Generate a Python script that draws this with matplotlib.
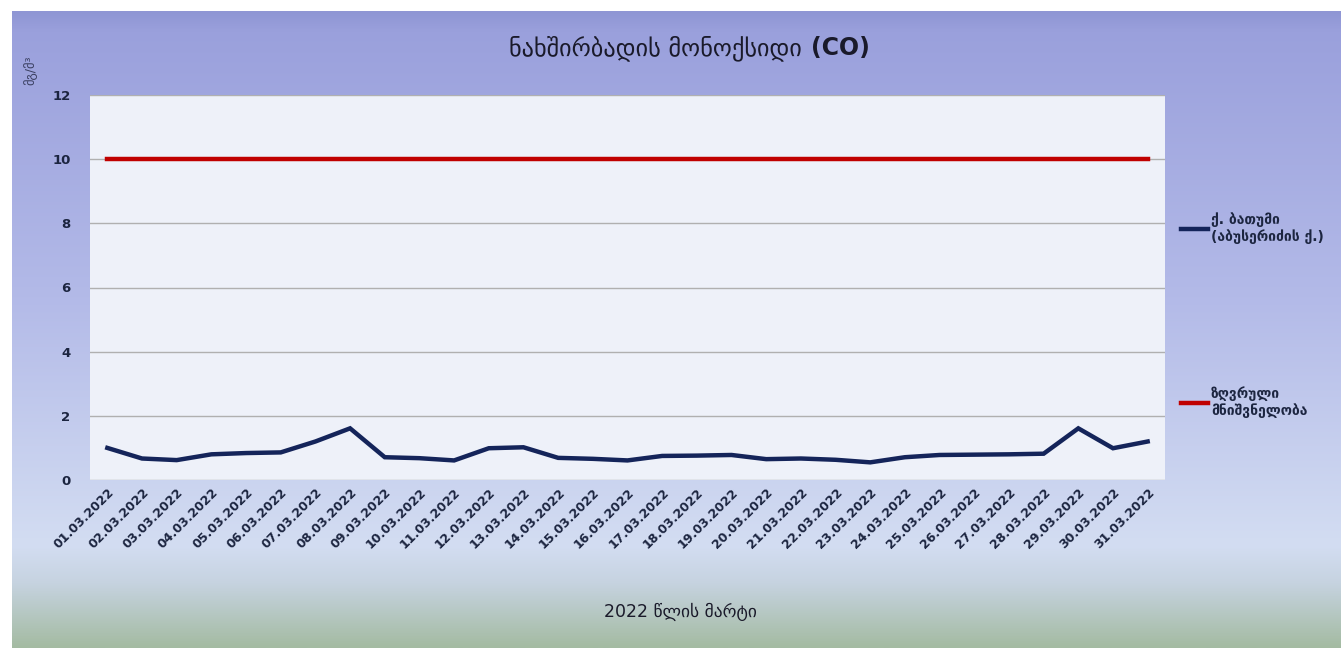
import numpy as np
import matplotlib.pyplot as plt
from matplotlib.colors import LinearSegmentedColormap

# Daily CO concentration, March 2022 (mg/m3)
dates = [f"{d:02d}.03.2022" for d in range(1, 32)]
batumi_co = [1.00, 0.67, 0.62, 0.80, 0.84, 0.86, 1.20, 1.61, 0.71, 0.68,
             0.61, 0.99, 1.02, 0.69, 0.66, 0.61, 0.75, 0.76, 0.78, 0.65,
             0.67, 0.63, 0.55, 0.71, 0.78, 0.79, 0.80, 0.82, 1.61, 0.99, 1.20]
limit_value = [10] * len(dates)

title = "ნახშირბადის მონოქსიდი"
series_label = "ქ. ბათუმი\n(აბუსერიძის ქ.)"
limit_label = "ზღვრული\nმნიშვნელობა"
y_label = "მგ/მ³"
x_label = "2022 წლის მარტი"

W, H = 1341, 648
fig = plt.figure(figsize=(W / 100, H / 100), dpi=100)
fig.patch.set_facecolor("white")

# gradient background panel (top purple, fading to green at the bottom)
bg = fig.add_axes([12 / W, 0, 1 - 12 / W, 1 - 11 / H])
bg.set_axis_off()
cmap = LinearSegmentedColormap.from_list(
    "panel",
    [(0.0, "#8f96d4"), (0.03, "#9aa0dc"), (0.45, "#b3bae8"),
     (0.84, "#d3ddf2"), (0.9, "#c6d3e0"), (1.0, "#a4bba2")])
grad = np.linspace(0, 1, 256).reshape(-1, 1)
bg.imshow(grad, aspect="auto", cmap=cmap, extent=[0, 1, 0, 1], origin="upper")
bg.set_xlim(0, 1)
bg.set_ylim(0, 1)

ax = fig.add_axes([90 / W, 1 - 480 / H, 1075 / W, 385 / H])
ax.set_facecolor("#eef1f9")
x = np.arange(len(dates))
ax.plot(x, batumi_co, color="#14245a", lw=3.2, solid_joinstyle="miter",
        label=series_label, zorder=3)
ax.plot(x, limit_value, color="#c00000", lw=3.2, label=limit_label, zorder=3)

ax.set_xlim(-0.5, len(dates) - 0.5)
ax.set_ylim(0, 12)
ax.set_yticks(range(0, 13, 2))
ax.set_xticks(x)
ax.set_xticklabels(dates, rotation=45, ha="right", rotation_mode="anchor",
                   fontsize=9, fontweight="bold", color="#1c2540")
ax.tick_params(axis="y", labelsize=9.5, labelcolor="#1c2540", length=0, pad=14)
for lab in ax.get_yticklabels():
    lab.set_fontweight("bold")
ax.tick_params(axis="x", length=0, pad=4)
ax.grid(axis="y", color="#b0b0b0", lw=1)
ax.set_axisbelow(True)
for s in ax.spines.values():
    s.set_visible(False)

t = fig.text(0.5 - 15 / W, 1 - 48 / H, title, ha="center", va="center",
             fontsize=17.5, color="#1a1a2a")
fig.canvas.draw()
bb = t.get_window_extent()
fig.text(bb.x1 / W + 9 / W, 1 - 48 / H, "(CO)", ha="left", va="center",
         fontsize=17, fontweight="bold", color="#1a1a2a")

fig.text(30 / W, 1 - 70 / H, y_label, rotation=90, ha="center", va="center",
         fontsize=9, color="#3a3f60")
fig.text(0.5 + 10 / W, 1 - 612 / H, x_label, ha="center", va="center",
         fontsize=12.5, color="#1a1a2a")

fig.legend(loc="upper left", bbox_to_anchor=(1168 / W, 1 - 200 / H),
           frameon=False, handlelength=2.0, handletextpad=0.2,
           labelspacing=10.2, prop={"size": 10, "weight": "bold"},
           labelcolor="#1c2540")

fig.savefig("out.png", dpi=100)
